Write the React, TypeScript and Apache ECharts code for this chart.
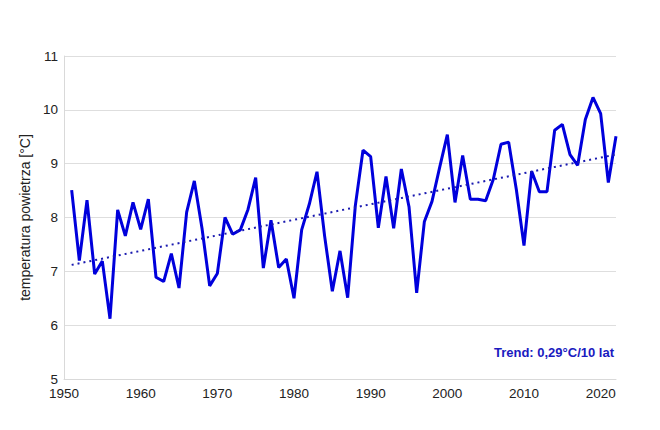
import React, { useEffect, useRef } from "react";
import * as echarts from "echarts";

const years: number[] = [];
for (let y = 1951; y <= 2022; y++) years.push(y);

const temps = [
  8.51, 7.2, 8.32, 6.95, 7.19, 6.12, 8.14, 7.66, 8.28, 7.78,
  8.34, 6.89, 6.81, 7.33, 6.69, 8.1, 8.68, 7.8, 6.73, 6.96,
  8.0, 7.69, 7.77, 8.15, 8.74, 7.06, 7.95, 7.07, 7.23, 6.5,
  7.77, 8.25, 8.85, 7.65, 6.63, 7.38, 6.51, 8.22, 9.25, 9.13,
  7.81, 8.76, 7.8, 8.9, 8.2, 6.6, 7.92, 8.3, 8.93, 9.54,
  8.28, 9.15, 8.34, 8.34, 8.31, 8.71, 9.36, 9.4, 8.52, 7.48,
  8.86, 8.48, 8.48, 9.62, 9.73, 9.17, 8.97, 9.82, 10.23, 9.93,
  8.65, 9.51,
];

const trendYears = [1951, 2022];
const trendValues = [7.12, 9.17];

const trendLabel = "Trend: 0,29°C/10 lat";
const yAxisName = "temperatura powietrza [°C]";

export default function App() {
  const ref = useRef<HTMLDivElement>(null);
  useEffect(() => {
    if (!ref.current) return;
    const chart = echarts.init(ref.current, undefined, { renderer: "svg" });
    const font = "'Liberation Sans', Arial, sans-serif";
    chart.setOption({
      animation: false,
      textStyle: { fontFamily: font },
      grid: { left: 56, right: 36, top: 48, bottom: 43 },
      xAxis: {
        type: "value",
        min: 1950,
        max: 2022,
        interval: 10,
        axisLine: { show: true, lineStyle: { color: "#d9d9d9", width: 1 } },
        axisTick: { show: false },
        splitLine: { show: false },
        axisLabel: {
          color: "#222",
          fontSize: 13.5,
          fontFamily: font,
          margin: 7,
          showMaxLabel: false,
          formatter: (v: number) => (v % 10 === 0 ? String(v) : ""),
        },
      },
      yAxis: {
        type: "value",
        min: 5,
        max: 11,
        interval: 1,
        name: yAxisName,
        nameLocation: "middle",
        nameGap: 18,
        nameTextStyle: { color: "#222", fontSize: 14, fontFamily: font },
        axisLine: { show: true, lineStyle: { color: "#d9d9d9", width: 1 } },
        axisTick: { show: false },
        splitLine: { show: true, lineStyle: { color: "#dedede", width: 1 } },
        axisLabel: { color: "#222", fontSize: 13.5, fontFamily: font, margin: 6 },
      },
      series: [
        {
          type: "line",
          data: years.map((y, i) => [y, temps[i]]),
          symbol: "none",
          lineStyle: { color: "#0000dc", width: 3 },
          z: 3,
        },
        {
          type: "line",
          data: trendYears.map((y, i) => [y, trendValues[i]]),
          symbol: "none",
          lineStyle: { color: "#1a1ab0", width: 2, type: [2, 4] },
          z: 4,
        },
      ],
      graphic: [
        {
          type: "text",
          right: 38,
          top: 338,
          style: {
            text: trendLabel,
            fill: "#1a1ac0",
            fontSize: 13,
            fontWeight: "bold",
            fontFamily: font,
          },
        },
      ],
    });
    return () => chart.dispose();
  }, []);
  return <div ref={ref} style={{ width: 644, height: 414 }} />;
}
